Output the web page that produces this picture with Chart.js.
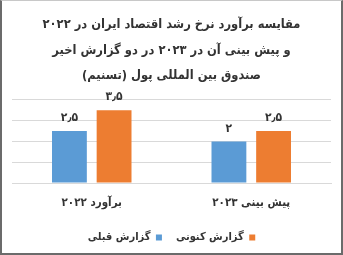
<!DOCTYPE html>
<html>
  <head>
    <meta charset="utf-8">
    <title>نرخ رشد اقتصاد ایران</title>
    <script src="https://cdn.jsdelivr.net/npm/chart.js@4.4.1/dist/chart.umd.min.js"></script>
    <style>
      html, body { margin: 0; padding: 0; background: #fff; }
      #wrap { position: relative; width: 343px; height: 255px; }
      #wrap canvas { position: absolute; left: 0; top: 0; direction: rtl; }
      #frame {
        position: absolute; left: 0; top: 0; width: 343px; height: 255px;
        box-sizing: border-box; pointer-events: none;
        border-left: 2px solid #6b6b6b; border-right: 2px solid #6b6b6b;
        border-bottom: 2px solid #6b6b6b; border-top: 1px solid #c8c8c8;
      }
    </style>
  </head>
  <body>

    <div id="wrap">
      <canvas id="growthChart" width="343" height="255"></canvas>
      <div id="frame"></div>
    </div>

    <script>
      // chart data
      const titleLines = [
        "مقایسه برآورد نرخ رشد اقتصاد ایران در ۲۰۲۲",
        "و پیش بینی آن در ۲۰۲۳ در دو گزارش اخیر",
        "صندوق بین المللی پول (تسنیم)"
      ];
      const categories = ["برآورد ۲۰۲۲", "پیش بینی ۲۰۲۳"];
      const seriesNames = ["گزارش قبلی", "گزارش کنونی"];
      const previousReport = [2.5, 2];
      const currentReport = [3.5, 2.5];
      const yTicks = [0, 1, 2, 3, 4];

      const FONT = "'DejaVu Sans Condensed', 'DejaVu Sans', sans-serif";
      const TEXT = "#333333";

      // western digits -> persian digits
      function toFa(v) {
        return String(v).replace(".", "٫").replace(/[0-9]/g, d => "۰۱۲۳۴۵۶۷۸۹"[d]);
      }

      // value labels above bars
      const barLabels = {
        id: "barLabels",
        afterDatasetsDraw(chart) {
          const ctx = chart.ctx;
          ctx.save();
          ctx.font = "bold 12px " + FONT;
          ctx.fillStyle = TEXT;
          ctx.textAlign = "center";
          ctx.textBaseline = "bottom";
          chart.data.datasets.forEach((ds, i) => {
            chart.getDatasetMeta(i).data.forEach((bar, j) => {
              ctx.fillText(toFa(ds.data[j]), bar.x, bar.y - 7);
            });
          });
          ctx.restore();
        }
      };

      const ctx = document.getElementById("growthChart").getContext("2d");

      const chart = new Chart(ctx, {
        type: "bar",
        data: {
          labels: categories,
          datasets: [
            {
              label: seriesNames[0],
              data: previousReport,
              backgroundColor: "#5b9bd5"
            },
            {
              label: seriesNames[1],
              data: currentReport,
              backgroundColor: "#ed7d31"
            }
          ]
        },
        options: {
          responsive: false,
          animation: false,
          layout: { padding: { left: 12, right: 12, top: 12, bottom: 2 } },
          datasets: {
            bar: { categoryPercentage: 0.56, barPercentage: 0.78 }
          },
          scales: {
            x: {
              grid: { display: false },
              border: { color: "#d9d9d9" },
              ticks: { color: TEXT, font: { family: FONT, size: 11.5, weight: "bold" }, padding: 5 },
              afterFit(axis) { axis.height = 35; }
            },
            y: {
              min: yTicks[0],
              max: yTicks[yTicks.length - 1],
              afterBuildTicks(axis) { axis.ticks = yTicks.map(v => ({ value: v })); },
              ticks: { display: false },
              border: { display: false },
              grid: { color: "#d9d9d9", drawTicks: false }
            }
          },
          plugins: {
            title: {
              display: true,
              text: titleLines,
              color: TEXT,
              font: { family: FONT, size: 12.8, weight: "bold", lineHeight: 2.0 },
              padding: { top: 0, bottom: 11 }
            },
            legend: {
              position: "bottom",
              rtl: true,
              reverse: true,
              labels: {
                color: TEXT,
                boxWidth: 6,
                boxHeight: 6,
                padding: 14,
                font: { family: FONT, size: 11, weight: "bold" }
              }
            },
            tooltip: { enabled: false }
          }
        },
        plugins: [barLabels]
      });
    </script>
  </body>
</html>
